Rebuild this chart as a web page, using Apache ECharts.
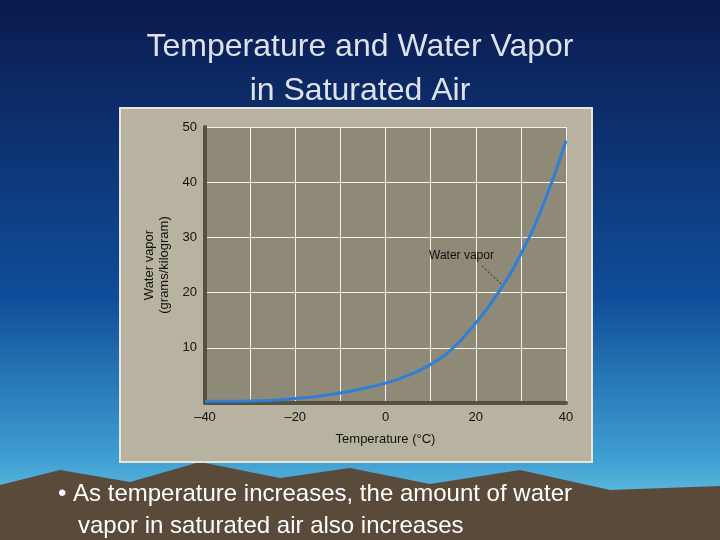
<!DOCTYPE html>
<html><head><meta charset="utf-8">
<script src="https://cdn.jsdelivr.net/npm/echarts@6/dist/echarts.min.js"></script>
<style>html,body{margin:0;padding:0}#main{width:720px;height:540px}</style>
</head><body><div id="main"></div>
<script>
// saturated water vapor vs temperature
var temps = [-40, -35, -30, -25, -20, -15, -10, -5, 0, 5, 10, 15, 20, 25, 30, 35, 40];
var vapor = [0.3, 0.3, 0.35, 0.5, 0.8, 1.2, 1.8, 2.6, 3.6, 5.0, 7.0, 10.0, 14.5, 20.0, 27.0, 36.0, 47.5];
var xTicks = [-40, -20, 0, 20, 40];
var yTicks = [10, 20, 30, 40, 50];

var chart = echarts.init(document.getElementById('main'));
var font = '"Liberation Sans", Arial, sans-serif';
chart.setOption({
    backgroundColor: {
        type: 'linear', x: 0, y: 0, x2: 0, y2: 1,
        colorStops: [
            {offset: 0, color: '#0b1a4e'},
            {offset: 0.55, color: '#0f4d9a'},
            {offset: 0.85, color: '#3f9fd2'},
            {offset: 1, color: '#7fd6e8'}
        ]
    },
    title: [{
        text: 'Temperature and Water Vapor\nin Saturated Air',
        left: 'center', top: 20,
        textStyle: {color: '#dde2ea', fontFamily: font, fontSize: 32, fontWeight: 'normal', lineHeight: 44}
    }],
    graphic: [
        {type: 'polygon', z: -20, shape: {points: [[0,540],[0,485],[60,470],[130,482],[200,462],[280,478],[350,468],[430,484],[520,470],[610,490],[720,486],[720,540]]},
            style: {fill: '#5a4a3a'}},
        {type: 'rect', z: -10, shape: {x: 120, y: 108, width: 472, height: 354}, style: {fill: '#b8b3a0', stroke: '#e8e6dc', lineWidth: 2}},
        {type: 'text', z: 5, left: 58, top: 478, style: {text: '• As temperature increases, the amount of water\n   vapor in saturated air also increases',
            fill: '#ffffff', font: '24px ' + font, lineHeight: 32}},
        {type: 'text', z: 5, left: 429, top: 250, style: {text: 'Water vapor', fill: '#111', font: '12px ' + font}},
        {type: 'line', z: 5, shape: {x1: 482, y1: 266, x2: 501, y2: 284}, style: {stroke: '#222', lineWidth: 1, lineDash: [2, 2]}}
    ],
    grid: {left: 205, right: 154, top: 127, bottom: 137, show: true, backgroundColor: '#8f8a77', borderWidth: 0},
    xAxis: {
        type: 'value', min: -40, max: 40, interval: 10,
        name: 'Temperature (°C)', nameLocation: 'middle', nameGap: 30,
        nameTextStyle: {color: '#111', fontFamily: font, fontSize: 13},
        axisLine: {onZero: false, lineStyle: {color: '#55523f', width: 4}},
        axisTick: {show: false},
        axisLabel: {color: '#111', fontFamily: font, fontSize: 13, margin: 8,
            formatter: function (v) { return xTicks.indexOf(v) < 0 ? '' : String(v).replace('-', '–'); }},
        splitLine: {lineStyle: {color: '#f4f2ea', width: 1}}
    },
    yAxis: {
        type: 'value', min: 0, max: 50, interval: 10,
        name: 'Water vapor\n(grams/kilogram)', nameLocation: 'middle', nameGap: 30,
        nameTextStyle: {color: '#111', fontFamily: font, fontSize: 13, lineHeight: 15},
        axisLine: {show: true, onZero: false, lineStyle: {color: '#55523f', width: 4}},
        axisTick: {show: false},
        axisLabel: {color: '#111', fontFamily: font, fontSize: 13, margin: 8,
            formatter: function (v) { return yTicks.indexOf(v) < 0 ? '' : v; }},
        splitLine: {lineStyle: {color: '#f4f2ea', width: 1}}
    },
    series: [{
        type: 'line', smooth: true, showSymbol: false,
        data: temps.map(function (t, i) { return [t, vapor[i]]; }),
        lineStyle: {color: '#2f7fd8', width: 3}
    }]
});
</script></body></html>
